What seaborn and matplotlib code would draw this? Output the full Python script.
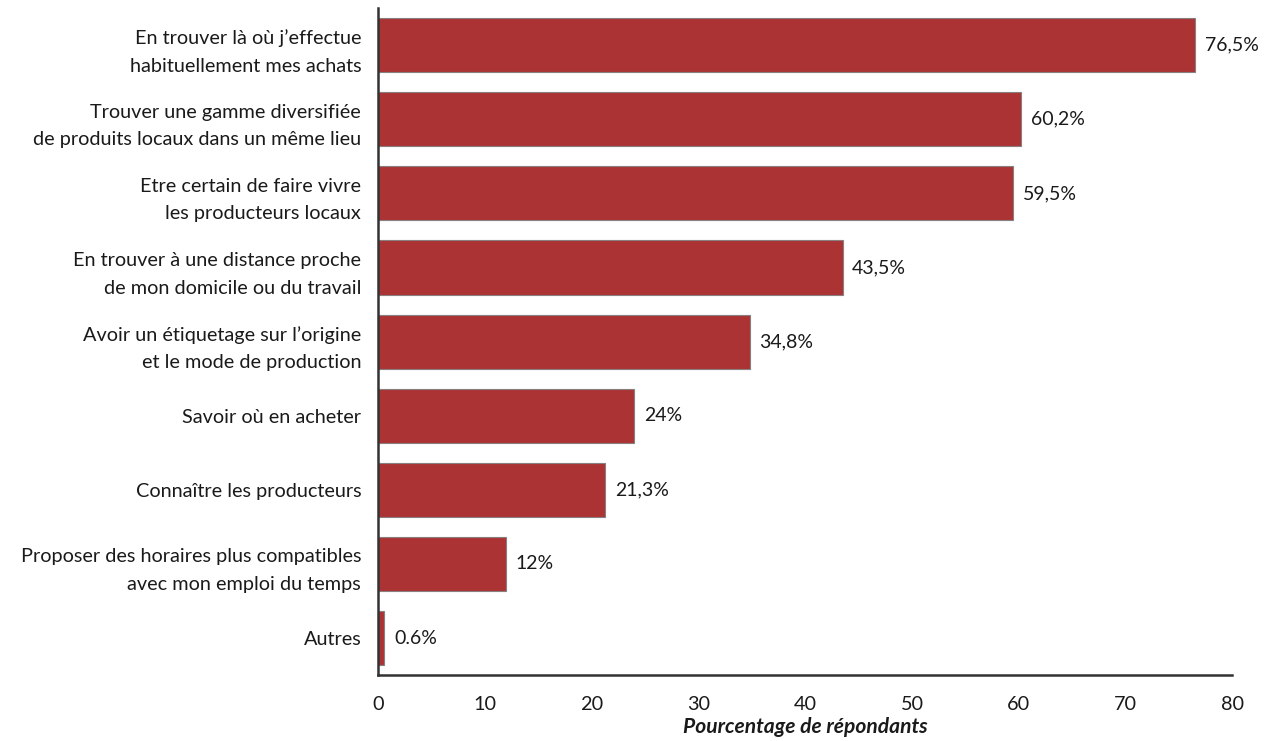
import matplotlib
matplotlib.use("Agg")
import matplotlib.pyplot as plt
import seaborn as sns
import pandas as pd

# Survey answers: what would encourage buying local products
categories = [
    "En trouver là où j’effectue\nhabituellement mes achats",
    "Trouver une gamme diversifiée\nde produits locaux dans un même lieu",
    "Etre certain de faire vivre\nles producteurs locaux",
    "En trouver à une distance proche\nde mon domicile ou du travail",
    "Avoir un étiquetage sur l’origine\net le mode de production",
    "Savoir où en acheter",
    "Connaître les producteurs",
    "Proposer des horaires plus compatibles\navec mon emploi du temps",
    "Autres",
]
values = [76.5, 60.2, 59.5, 43.5, 34.8, 24.0, 21.3, 12.0, 0.6]
value_labels = ["76,5%", "60,2%", "59,5%", "43,5%", "34,8%", "24%", "21,3%", "12%", "0.6%"]
x_ticks = [0, 10, 20, 30, 40, 50, 60, 70, 80]

df = pd.DataFrame({"categorie": categories, "pourcentage": values})

sns.set_theme(style="white")
plt.rcParams["font.family"] = ["Lato", "DejaVu Sans"]

FS = 14.3
TXT = "#1a1a1a"

fig = plt.figure(figsize=(12.68, 7.41), dpi=100)
ax = fig.add_axes([0.298, 0.089, 0.674, 0.900])

sns.barplot(data=df, x="pourcentage", y="categorie", orient="h",
            color="#AB3334", edgecolor="#8a7f7f", linewidth=0.8,
            width=0.73, saturation=1, ax=ax)

for bar, lab in zip(ax.patches, value_labels):
    ax.text(bar.get_width() + 0.9, bar.get_y() + bar.get_height() / 2, lab,
            va="center", ha="left", fontsize=FS - 0.3, color=TXT)

ax.set_xlim(0, 80)
ax.set_xticks(x_ticks)
ax.set_xticklabels([str(t) for t in x_ticks], fontsize=FS, color=TXT)
ax.set_xlabel("Pourcentage de répondants", fontsize=FS + 0.8, fontstyle="italic",
              fontweight="bold", color=TXT, labelpad=3)
ax.set_ylabel("")
ax.tick_params(axis="y", length=0, labelsize=FS, labelcolor=TXT, pad=12)
ax.tick_params(axis="x", length=7, width=1.6, color="#333333", pad=8)
for lbl in ax.get_yticklabels():
    lbl.set_horizontalalignment("right")
    lbl.set_multialignment("right")
    lbl.set_linespacing(1.75)

sns.despine(ax=ax, top=True, right=True)
for side in ("left", "bottom"):
    ax.spines[side].set_color("#333333")
    ax.spines[side].set_linewidth(1.8)

fig.savefig("out.png", dpi=100)
